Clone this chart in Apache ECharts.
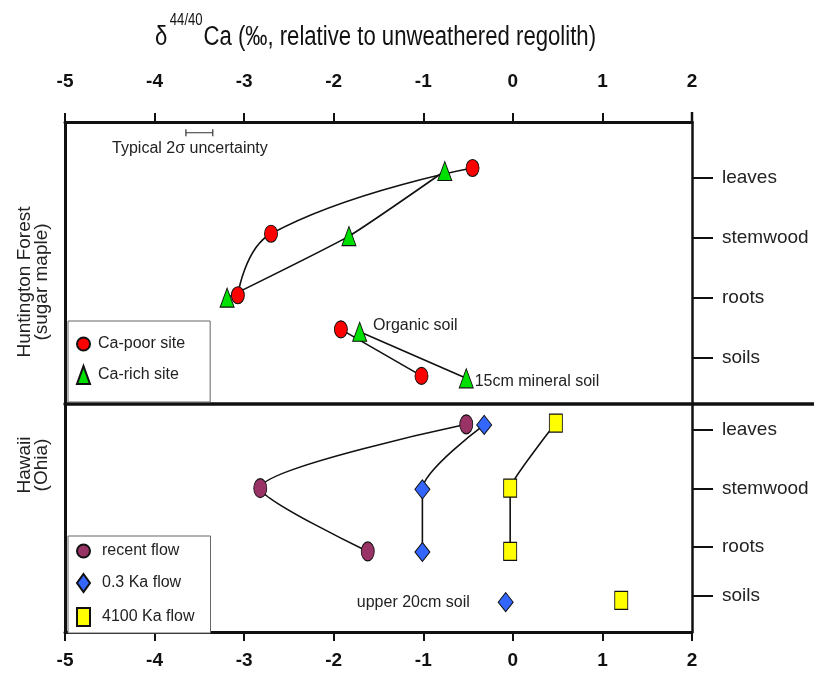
<!DOCTYPE html>
<html><head><meta charset="utf-8">
<script src="https://cdn.jsdelivr.net/npm/echarts@6/dist/echarts.min.js"></script>
<style>html,body{margin:0;padding:0;background:#fff}#c{width:814px;height:675px}</style>
</head><body><div id="c"></div>
<script>
// ---------- data ----------
const xTicks = [-5, -4, -3, -2, -1, 0, 1, 2];
const compartments = ['leaves', 'stemwood', 'roots', 'soils'];
// level of each compartment on the vertical (schematic) scale
const hfLevels = [3, 2, 1, 0];          // Huntington Forest panel
const hiLevels = [2.79, 1.80, 0.83, 0]; // Hawaii panel

// Huntington Forest: [δ44/40Ca, level]
const caPoorPlant = [[-0.45, 3.17], [-2.70, 2.07], [-3.07, 1.04]];
const caPoorSoil  = [[-1.92, 0.47], [-1.02, -0.31]];
const caRichPlant = [[-0.76, 3.12], [-1.83, 2.03], [-3.19, 1.00]];
const caRichSoil  = [[-1.71, 0.43], [-0.52, -0.35]];
const hfSoilNotes = ['Organic soil', '15cm mineral soil'];

// Hawaii
const recentFlow    = [[-0.52, 2.88], [-2.82, 1.81], [-1.62, 0.75]];
const flow03Plant   = [[-0.32, 2.87], [-1.01, 1.79], [-1.01, 0.74]];
const flow03Soil    = [[-0.08, -0.10]];
const flow4100Plant = [[0.48, 2.90], [-0.03, 1.81], [-0.03, 0.75]];
const flow4100Soil  = [[1.21, -0.07]];
const hiSoilNote = 'upper 20cm soil';

// typical 2σ uncertainty bar
const uncertainty = [[-3.65, 3.76], [-3.35, 3.76]];

// ---------- chart ----------
const FR = "'Liberation Sans', Arial, sans-serif";
const chart = echarts.init(document.getElementById('c'), null, {renderer: 'canvas'});

const GL = 65, GW = 627;
const lineStyle = {color: '#111', width: 1.6};

function mk(name, data, opts) {
  return Object.assign({
    name, type: 'line', data,
    lineStyle, z: 3,
    emphasis: {disabled: true}, animation: false
  }, opts);
}
function nameOf(levels) {
  return v => {
    const i = levels.findIndex(l => Math.abs(l - v) < 1e-6);
    return i >= 0 ? compartments[i] : '';
  };
}
const xLabel = {fontFamily: FR, fontWeight: 'bold', fontSize: 19, color: '#111',
                formatter: v => (xTicks.indexOf(v) >= 0 ? String(v) : '')};

const red = {color: '#ff0000', borderColor: '#111', borderWidth: 1};
const green = {color: '#00e000', borderColor: '#111', borderWidth: 1};
const maroon = {color: '#993366', borderColor: '#111', borderWidth: 1};
const blue = {color: '#3366ff', borderColor: '#111', borderWidth: 1};
const yellow = {color: '#ffff00', borderColor: '#111', borderWidth: 1};
const noteLabel = {fontFamily: FR, fontSize: 16, color: '#222'};

const option = {
  backgroundColor: '#fff',
  animation: false,
  grid: [
    {left: GL, width: GW, top: 122, height: 282},
    {left: GL, width: GW, top: 404, height: 228}
  ],
  xAxis: [
    {gridIndex: 0, type: 'value', position: 'top', min: -5, max: 2, interval: 1,
     axisLine: {onZero: false, lineStyle: {color: '#111', width: 3}},
     axisTick: {show: true, length: 9, lineStyle: {width: 2, color: '#111'}},
     axisLabel: Object.assign({margin: 31}, xLabel), splitLine: {show: false}},
    {gridIndex: 0, type: 'value', position: 'bottom', min: -5, max: 2, interval: 1,
     axisLine: {onZero: false, lineStyle: {color: '#111', width: 3.5}},
     axisTick: {show: false}, axisLabel: {show: false}, splitLine: {show: false}},
    {gridIndex: 1, type: 'value', position: 'bottom', min: -5, max: 2, interval: 1,
     axisLine: {onZero: false, lineStyle: {color: '#111', width: 3}},
     axisTick: {show: true, length: 9, lineStyle: {width: 2, color: '#111'}},
     axisLabel: Object.assign({margin: 19}, xLabel), splitLine: {show: false}}
  ],
  yAxis: [
    {gridIndex: 0, type: 'value', position: 'left', min: -0.78, max: 3.94,
     axisLine: {show: true, onZero: false, lineStyle: {color: '#111', width: 3}},
     axisTick: {show: false}, axisLabel: {show: false}, splitLine: {show: false}},
    {gridIndex: 0, type: 'value', position: 'right', min: -0.78, max: 3.94,
     axisLine: {show: true, onZero: false, lineStyle: {color: '#111', width: 2.5}},
     axisTick: {show: true, length: 21, customValues: hfLevels, lineStyle: {width: 2, color: '#111'}},
     axisLabel: {customValues: hfLevels, formatter: nameOf(hfLevels), margin: 30,
                 fontFamily: FR, fontSize: 19, color: '#222', padding: [0, 0, 8, 0]},
     splitLine: {show: false}},
    {gridIndex: 1, type: 'value', position: 'left', min: -0.60, max: 3.22,
     axisLine: {show: true, onZero: false, lineStyle: {color: '#111', width: 3}},
     axisTick: {show: false}, axisLabel: {show: false}, splitLine: {show: false}},
    {gridIndex: 1, type: 'value', position: 'right', min: -0.60, max: 3.22,
     axisLine: {show: true, onZero: false, lineStyle: {color: '#111', width: 2.5}},
     axisTick: {show: true, length: 21, customValues: hiLevels, lineStyle: {width: 2, color: '#111'}},
     axisLabel: {customValues: hiLevels, formatter: nameOf(hiLevels), margin: 30,
                 fontFamily: FR, fontSize: 19, color: '#222', padding: [0, 0, 8, 0]},
     splitLine: {show: false}}
  ],
  legend: [
    {orient: 'vertical', left: 68, top: 321,
     padding: [15, 25, 17, 8], itemWidth: 13, itemHeight: 18, itemGap: 13,
     backgroundColor: '#fff', borderColor: '#666', borderWidth: 1,
     textStyle: {fontFamily: FR, fontSize: 16, color: '#222', padding: [0, 0, 0, 3]},
     selectedMode: false,
     data: [{name: 'Ca-poor site', icon: 'circle'}, {name: 'Ca-rich site', icon: 'triangle'}]},
    {orient: 'vertical', left: 68, top: 536,
     padding: [7, 16, 6, 8], itemWidth: 13, itemHeight: 18, itemGap: 14,
     backgroundColor: '#fff', borderColor: '#666', borderWidth: 1,
     textStyle: {fontFamily: FR, fontSize: 16, color: '#222', padding: [0, 0, 0, 7]},
     selectedMode: false,
     data: [{name: 'recent flow', icon: 'circle'}, {name: '0.3 Ka flow', icon: 'diamond'}, {name: '4100 Ka flow', icon: 'rect'}]}
  ],
  graphic: [
    {type: 'text', x: 155, y: 13, scaleX: 0.82, silent: true,
     style: {text: '{d|δ}{s|44/40}{d|Ca (‰, relative to unweathered regolith)}',
             align: 'left', verticalAlign: 'top',
             rich: {
               d: {fontFamily: FR, fontSize: 27, fill: '#111', color: '#111', lineHeight: 50},
               s: {fontFamily: FR, fontSize: 16, fill: '#111', color: '#111', lineHeight: 16, verticalAlign: 'top', padding: [0, 1, 0, 3]}
             }}},
    {type: 'line', shape: {x1: 692, y1: 404, x2: 814, y2: 404}, style: {stroke: '#111', lineWidth: 3.5}, silent: true},
    {type: 'line', shape: {x1: 692, y1: 112, x2: 692, y2: 122}, style: {stroke: '#111', lineWidth: 2.5}, silent: true},
    {type: 'text', x: 33, y: 282, rotation: Math.PI / 2, silent: true,
     style: {text: 'Huntington Forest\n(sugar maple)', fontFamily: FR, fontSize: 19, lineHeight: 17,
             fill: '#222', align: 'center', verticalAlign: 'middle'}},
    {type: 'text', x: 33, y: 465, rotation: Math.PI / 2, silent: true,
     style: {text: 'Hawaii\n(Ohia)', fontFamily: FR, fontSize: 19, lineHeight: 17,
             fill: '#222', align: 'center', verticalAlign: 'middle'}}
  ],
  series: [
    mk('uncertainty', uncertainty.map((p, i) => i === 0 ? {
        value: p, label: {show: true, formatter: 'Typical 2σ uncertainty', position: 'bottom', distance: 4, offset: [4, 0],
                          fontFamily: FR, fontSize: 16, color: '#222'}} : p),
       {xAxisIndex: 0, yAxisIndex: 1, symbol: 'rect', symbolSize: [1.2, 7],
        itemStyle: {color: '#333'}, lineStyle: {color: '#333', width: 1}, silent: true}),
    mk('Ca-poor site', caPoorPlant, {xAxisIndex: 0, yAxisIndex: 1, smooth: 0.45,
        symbol: 'circle', symbolSize: [13, 17], itemStyle: red}),
    mk('Ca-poor site', caPoorSoil, {xAxisIndex: 0, yAxisIndex: 1,
        symbol: 'circle', symbolSize: [13, 17], itemStyle: red}),
    mk('Ca-rich site', caRichPlant, {xAxisIndex: 0, yAxisIndex: 1, smooth: 0.15,
        symbol: 'triangle', symbolSize: [14, 19], itemStyle: green}),
    mk('Ca-rich site', caRichSoil.map((p, i) => ({value: p, label: {
          show: true, formatter: hfSoilNotes[i], position: 'right',
          distance: i === 0 ? 6 : 1, offset: i === 0 ? [0, -6] : [0, 3], ...noteLabel}})),
       {xAxisIndex: 0, yAxisIndex: 1, symbol: 'triangle', symbolSize: [14, 19], itemStyle: green}),
    mk('recent flow', recentFlow, {xAxisIndex: 2, yAxisIndex: 3, smooth: 0.25,
        symbol: 'circle', symbolSize: [13, 19], itemStyle: maroon}),
    mk('0.3 Ka flow', flow03Plant, {xAxisIndex: 2, yAxisIndex: 3, smooth: 0.25,
        symbol: 'diamond', symbolSize: [15, 19], itemStyle: blue}),
    mk('0.3 Ka flow', flow03Soil.map(p => ({value: p, label: {
          show: true, formatter: hiSoilNote, position: 'left', distance: 28, ...noteLabel}})),
       {xAxisIndex: 2, yAxisIndex: 3, symbol: 'diamond', symbolSize: [15, 19], itemStyle: blue}),
    mk('4100 Ka flow', flow4100Plant, {xAxisIndex: 2, yAxisIndex: 3, smooth: 0.1,
        symbol: 'rect', symbolSize: [13, 18], itemStyle: yellow}),
    mk('4100 Ka flow', flow4100Soil, {xAxisIndex: 2, yAxisIndex: 3,
        symbol: 'rect', symbolSize: [13, 18], itemStyle: yellow})
  ]
};
chart.setOption(option);
</script>
</body></html>
